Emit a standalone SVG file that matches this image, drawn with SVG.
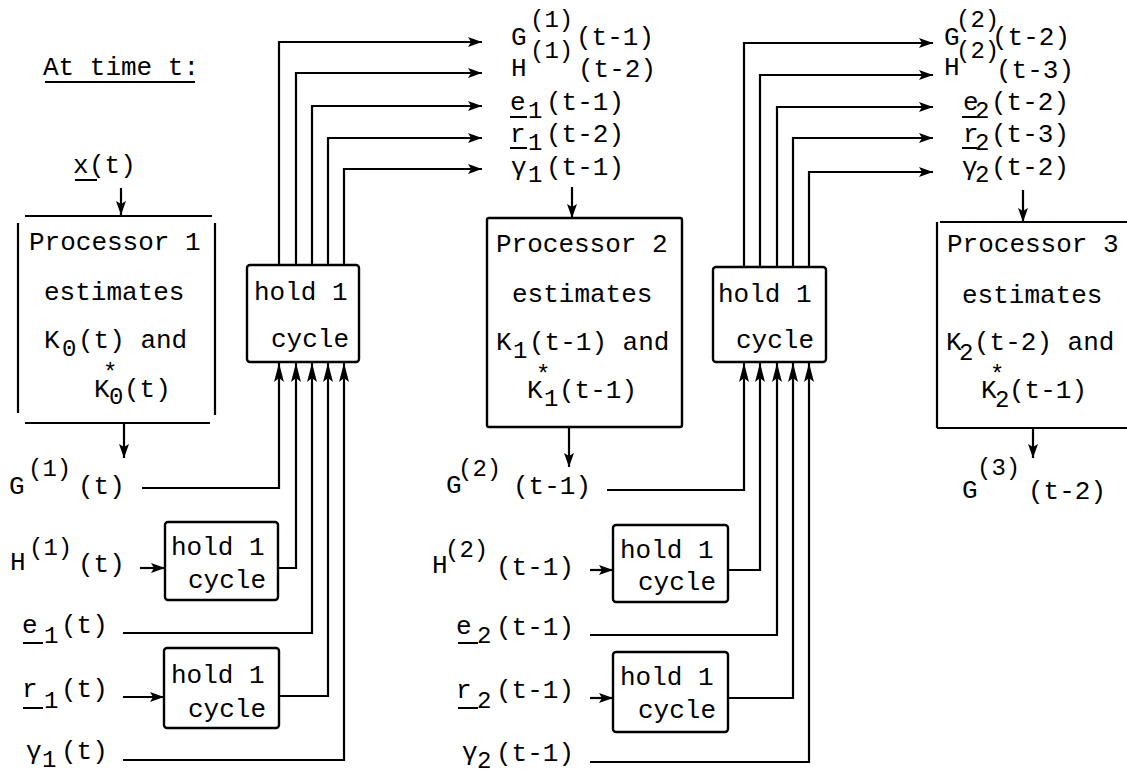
<svg xmlns="http://www.w3.org/2000/svg" width="1127" height="774" viewBox="0 0 1127 774">
<style>
.t{font-family:"Liberation Mono","DejaVu Sans Mono",monospace;font-size:26px;fill:#000}
.s{font-size:24px}
.ln{fill:none;stroke:#000;stroke-width:2.2}
.box{fill:#fff;stroke:#000;stroke-width:2.4}
.ul{stroke:#000;stroke-width:2}
.a{marker-end:url(#ah)}
.au{marker-end:url(#ahu)}
</style>
<defs>
<marker id="ah" markerUnits="userSpaceOnUse" markerWidth="14" markerHeight="10" refX="14" refY="5" orient="auto"><path d="M0,0 L14,5 L0,10 L3,5 z" fill="#000"/></marker>
<marker id="ahu" markerUnits="userSpaceOnUse" markerWidth="19" markerHeight="10" refX="19" refY="5" orient="auto"><path d="M0,0 L19,5 L0,10 L4,5 z" fill="#000"/></marker>
</defs>
<rect width="1127" height="774" fill="#fff"/>

<g id="title">
<text class="t" x="43" y="75">At time t:</text>
<line class="ul" x1="45" y1="82" x2="195" y2="82"/>
</g>

<g id="connectors">
<path class="ln a" d="M121,188 V215"/>
<path class="ln a" d="M124,423 V458"/>
<path class="ln a" d="M572,187 V218"/>
<path class="ln a" d="M569,427 V467"/>
<path class="ln a" d="M1023,190 V222"/>
<path class="ln a" d="M1033,428 V458"/>
<path class="ln a" d="M279,265 V42 H482"/>
<path class="ln a" d="M296,265 V73 H482"/>
<path class="ln a" d="M312,265 V106 H482"/>
<path class="ln a" d="M328,265 V138 H482"/>
<path class="ln a" d="M344,265 V169 H482"/>
<path class="ln au" d="M142,488 H279 V363"/>
<path class="ln au" d="M278,568 H296 V363"/>
<path class="ln au" d="M123,633 H312 V363"/>
<path class="ln au" d="M279,696 H328 V363"/>
<path class="ln au" d="M123,760 H344 V363"/>
<path class="ln a" d="M140,568 H165"/>
<path class="ln a" d="M123,697 H164"/>
<path class="ln a" d="M744,267 V43 H933"/>
<path class="ln a" d="M760,267 V75 H933"/>
<path class="ln a" d="M777,267 V107 H933"/>
<path class="ln a" d="M793,267 V138 H933"/>
<path class="ln a" d="M809,267 V172 H933"/>
<path class="ln au" d="M607,490 H744 V363"/>
<path class="ln au" d="M728,570 H760 V363"/>
<path class="ln au" d="M590,635 H777 V363"/>
<path class="ln au" d="M728,698 H793 V363"/>
<path class="ln au" d="M590,762 H809 V363"/>
<path class="ln a" d="M590,570 H613"/>
<path class="ln a" d="M590,698 H613"/>
</g>

<g id="proc1">
<line class="ln" x1="25" y1="216" x2="212" y2="216"/>
<line class="ln" x1="18" y1="223" x2="18" y2="413"/>
<line class="ln" x1="215" y1="223" x2="215" y2="415"/>
<line class="ln" x1="25" y1="423" x2="210" y2="423"/>
<text class="t" x="29" y="250">Processor 1</text>
<text class="t" x="44" y="300">estimates</text>
<text class="t"><tspan x="44" y="348">K</tspan><tspan class="s" x="62" y="356">0</tspan><tspan x="78" y="348">(t) and</tspan></text>
<text class="t"><tspan x="94" y="397">K</tspan><tspan class="s" x="103" y="380">*</tspan><tspan class="s" x="109" y="404">0</tspan><tspan x="124" y="397">(t)</tspan></text>
</g>

<g id="hold1">
<rect class="box" x="247" y="265" width="112" height="97" rx="3"/>
<text class="t" x="254" y="300">hold 1</text>
<text class="t" x="271" y="347">cycle</text>
</g>

<g id="holdH1">
<rect class="box" x="165" y="522" width="113" height="78" rx="3"/>
<text class="t" x="171" y="555">hold 1</text>
<text class="t" x="188" y="588">cycle</text>
</g>

<g id="holdR1">
<rect class="box" x="164" y="648" width="115" height="80" rx="3"/>
<text class="t" x="171" y="683">hold 1</text>
<text class="t" x="188" y="717">cycle</text>
</g>

<g id="proc2">
<rect class="box" x="487" y="218" width="195" height="209" rx="2"/>
<text class="t" x="496" y="252">Processor 2</text>
<text class="t" x="512" y="302">estimates</text>
<text class="t"><tspan x="496" y="350">K</tspan><tspan class="s" x="513" y="358">1</tspan><tspan x="529" y="350">(t-1) and</tspan></text>
<text class="t"><tspan x="527" y="398">K</tspan><tspan class="s" x="536" y="382">*</tspan><tspan class="s" x="544" y="406">1</tspan><tspan x="559" y="398">(t-1)</tspan></text>
</g>

<g id="hold2">
<rect class="box" x="713" y="267" width="113" height="95" rx="3"/>
<text class="t" x="718" y="302">hold 1</text>
<text class="t" x="736" y="348">cycle</text>
</g>

<g id="holdH2">
<rect class="box" x="613" y="525" width="115" height="77" rx="3"/>
<text class="t" x="620" y="558">hold 1</text>
<text class="t" x="638" y="590">cycle</text>
</g>

<g id="holdR2">
<rect class="box" x="613" y="652" width="115" height="80" rx="3"/>
<text class="t" x="620" y="685">hold 1</text>
<text class="t" x="638" y="718">cycle</text>
</g>

<g id="proc3">
<line class="ln" x1="940" y1="222" x2="1127" y2="222"/>
<line class="ln" x1="937" y1="222" x2="937" y2="428"/>
<line class="ln" x1="937" y1="428" x2="1127" y2="428"/>
<text class="t" x="947" y="252">Processor 3</text>
<text class="t" x="962" y="303">estimates</text>
<text class="t"><tspan x="946" y="350">K</tspan><tspan class="s" x="959" y="360">2</tspan><tspan x="974" y="350">(t-2) and</tspan></text>
<text class="t"><tspan x="981" y="398">K</tspan><tspan class="s" x="990" y="382">*</tspan><tspan class="s" x="995" y="407">2</tspan><tspan x="1009" y="398">(t-1)</tspan></text>
</g>

<g id="labels-input1">
<text class="t"><tspan x="73" y="173">x</tspan><tspan x="89" y="173">(t)</tspan></text>
<line class="ul" x1="75" y1="180" x2="97" y2="180"/>
<text class="t"><tspan x="9" y="494">G</tspan><tspan class="s" x="28" y="476">(1)</tspan><tspan x="78" y="494">(t)</tspan></text>
<text class="t"><tspan x="10" y="570">H</tspan><tspan class="s" x="29" y="555">(1)</tspan><tspan x="78" y="572">(t)</tspan></text>
<text class="t"><tspan x="22" y="633">e</tspan><tspan class="s" x="44" y="643">1</tspan><tspan x="61" y="633">(t)</tspan></text>
<line class="ul" x1="23" y1="643" x2="43" y2="643"/>
<text class="t"><tspan x="22" y="697">r</tspan><tspan class="s" x="44" y="708">1</tspan><tspan x="61" y="697">(t)</tspan></text>
<line class="ul" x1="23" y1="708" x2="43" y2="708"/>
<text class="t"><tspan x="26" y="759">γ</tspan><tspan class="s" x="42" y="767">1</tspan><tspan x="61" y="759">(t)</tspan></text>
</g>

<g id="labels-out1">
<text class="t"><tspan x="511" y="45">G</tspan><tspan class="s" x="530" y="27">(1)</tspan><tspan x="576" y="45">(t-1)</tspan></text>
<text class="t"><tspan x="511" y="76">H</tspan><tspan class="s" x="530" y="58">(1)</tspan><tspan x="578" y="77">(t-2)</tspan></text>
<text class="t"><tspan x="510" y="110">e</tspan><tspan class="s" x="528" y="118">1</tspan><tspan x="546" y="110">(t-1)</tspan></text>
<line class="ul" x1="510" y1="117" x2="527" y2="117"/>
<text class="t"><tspan x="510" y="142">r</tspan><tspan class="s" x="528" y="150">1</tspan><tspan x="546" y="142">(t-2)</tspan></text>
<line class="ul" x1="510" y1="148" x2="527" y2="148"/>
<text class="t"><tspan x="511" y="175">γ</tspan><tspan class="s" x="528" y="182">1</tspan><tspan x="546" y="175">(t-1)</tspan></text>
</g>

<g id="labels-input2">
<text class="t"><tspan x="446" y="493">G</tspan><tspan class="s" x="458" y="476">(2)</tspan><tspan x="513" y="494">(t-1)</tspan></text>
<text class="t"><tspan x="432" y="573">H</tspan><tspan class="s" x="445" y="557">(2)</tspan><tspan x="496" y="575">(t-1)</tspan></text>
<text class="t"><tspan x="456" y="634">e</tspan><tspan class="s" x="477" y="643">2</tspan><tspan x="496" y="635">(t-1)</tspan></text>
<line class="ul" x1="458" y1="643" x2="478" y2="643"/>
<text class="t"><tspan x="456" y="698">r</tspan><tspan class="s" x="477" y="708">2</tspan><tspan x="496" y="698">(t-1)</tspan></text>
<line class="ul" x1="458" y1="708" x2="478" y2="708"/>
<text class="t"><tspan x="462" y="760">γ</tspan><tspan class="s" x="477" y="768">2</tspan><tspan x="496" y="761">(t-1)</tspan></text>
</g>

<g id="labels-out2">
<text class="t"><tspan x="944" y="45">G</tspan><tspan class="s" x="956" y="27">(2)</tspan><tspan x="992" y="45">(t-2)</tspan></text>
<text class="t"><tspan x="944" y="75">H</tspan><tspan class="s" x="956" y="58">(2)</tspan><tspan x="996" y="78">(t-3)</tspan></text>
<text class="t"><tspan x="963" y="110">e</tspan><tspan class="s" x="975" y="118">2</tspan><tspan x="991" y="110">(t-2)</tspan></text>
<line class="ul" x1="962" y1="117" x2="977" y2="117"/>
<text class="t"><tspan x="963" y="142">r</tspan><tspan class="s" x="975" y="150">2</tspan><tspan x="991" y="142">(t-3)</tspan></text>
<line class="ul" x1="962" y1="148" x2="977" y2="148"/>
<text class="t"><tspan x="962" y="175">γ</tspan><tspan class="s" x="975" y="182">2</tspan><tspan x="991" y="175">(t-2)</tspan></text>
</g>

<g id="labels-out3">
<text class="t"><tspan x="962" y="498">G</tspan><tspan class="s" x="977" y="475">(3)</tspan><tspan x="1028" y="499">(t-2)</tspan></text>
</g>
</svg>
